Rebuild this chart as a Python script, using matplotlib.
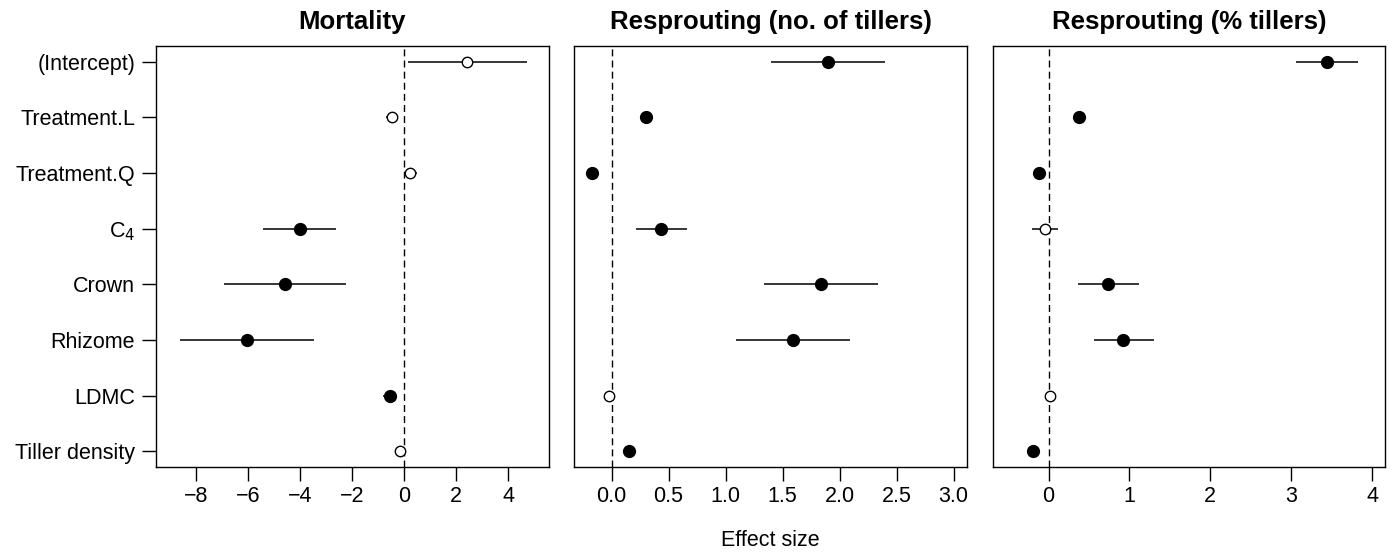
import matplotlib
matplotlib.use("Agg")
import matplotlib.pyplot as plt
import numpy as np

plt.rcParams['font.family'] = ['Liberation Sans', 'DejaVu Sans']

terms = ["(Intercept)", "Treatment.L", "Treatment.Q", "C$_4$", "Crown", "Rhizome", "LDMC", "Tiller density"]

titles = ["Mortality", "Resprouting (no. of tillers)", "Resprouting (% tillers)"]

# Mortality
mort_est = [2.40, -0.47, 0.23, -4.02, -4.60, -6.05, -0.56, -0.17]
mort_lo = [0.13, -0.70, 0.03, -5.42, -6.92, -8.63, -0.81, -0.27]
mort_hi = [4.71, -0.23, 0.48, -2.64, -2.25, -3.47, -0.29, -0.07]
mort_sig = [False, False, False, True, True, True, True, False]

# Resprouting (no. of tillers)
nt_est = [1.90, 0.30, -0.17, 0.435, 1.84, 1.59, -0.02, 0.15]
nt_lo = [1.40, 0.28, -0.19, 0.216, 1.34, 1.09, -0.03, 0.13]
nt_hi = [2.40, 0.32, -0.15, 0.66, 2.34, 2.09, -0.01, 0.17]
nt_sig = [True, True, True, True, True, True, False, True]

# Resprouting (% tillers)
pt_est = [3.44, 0.38, -0.12, -0.045, 0.74, 0.92, 0.02, -0.19]
pt_lo = [3.06, 0.36, -0.14, -0.21, 0.37, 0.56, 0.00, -0.21]
pt_hi = [3.83, 0.40, -0.10, 0.12, 1.12, 1.30, 0.04, -0.17]
pt_sig = [True, True, True, False, True, True, False, True]

xticks_list = [[-8, -6, -4, -2, 0, 2, 4],
               [0.0, 0.5, 1.0, 1.5, 2.0, 2.5, 3.0],
               [0, 1, 2, 3, 4]]
xtick_labels = [["\u22128", "\u22126", "\u22124", "\u22122", "0", "2", "4"],
                ["0.0", "0.5", "1.0", "1.5", "2.0", "2.5", "3.0"],
                ["0", "1", "2", "3", "4"]]
xlims = [(-9.55, 5.57), (-0.33, 3.12), (-0.69, 4.16)]

data = [(mort_est, mort_lo, mort_hi, mort_sig),
        (nt_est, nt_lo, nt_hi, nt_sig),
        (pt_est, pt_lo, pt_hi, pt_sig)]

fig = plt.figure(figsize=(13.92, 5.52), dpi=100)
lefts = [156/1392, 574/1392, 992.7/1392]
widths = [393/1392, 393.3/1392, 392.3/1392]
bottom = 1 - 467/552
height = (467 - 46)/552

ypos = np.arange(1, len(terms) + 1)
axes = []
for i in range(3):
    ax = fig.add_axes([lefts[i], bottom, widths[i], height])
    axes.append(ax)
    est, lo, hi, sig = data[i]
    ax.axvline(0, color='black', lw=1.0, linestyle=(0, (5, 3)), zorder=1)
    for j in range(len(terms)):
        ax.plot([lo[j], hi[j]], [ypos[j], ypos[j]], color='black', lw=1.1, zorder=2,
                solid_capstyle='butt')
        if sig[j]:
            ax.plot(est[j], ypos[j], marker='o', ms=8.5, mfc='black', mec='black',
                    mew=1.0, zorder=3)
        else:
            ax.plot(est[j], ypos[j], marker='o', ms=7.5, mfc='white', mec='black',
                    mew=1.0, zorder=3)
    ax.set_xlim(*xlims[i])
    ax.set_ylim(8.28, 0.72)
    ax.set_xticks(xticks_list[i])
    ax.set_xticklabels(xtick_labels[i], fontsize=15.5)
    ax.tick_params(axis='x', direction='out', length=10, width=1, pad=4)
    if i == 0:
        ax.set_yticks(ypos)
        ax.set_yticklabels(terms, fontsize=15.5)
        ax.tick_params(axis='y', direction='out', length=10, width=1, pad=5)
    else:
        ax.set_yticks([])
    for s in ax.spines.values():
        s.set_linewidth(1.0)
        s.set_color('black')
    ax.set_title(titles[i], fontsize=18.5, fontweight='bold', pad=12)

mid = lefts[1] + widths[1] / 2
fig.text(mid, 1 - 540/552, "Effect size", ha='center', va='center', fontsize=15.5)

fig.savefig("out.png", dpi=100)
